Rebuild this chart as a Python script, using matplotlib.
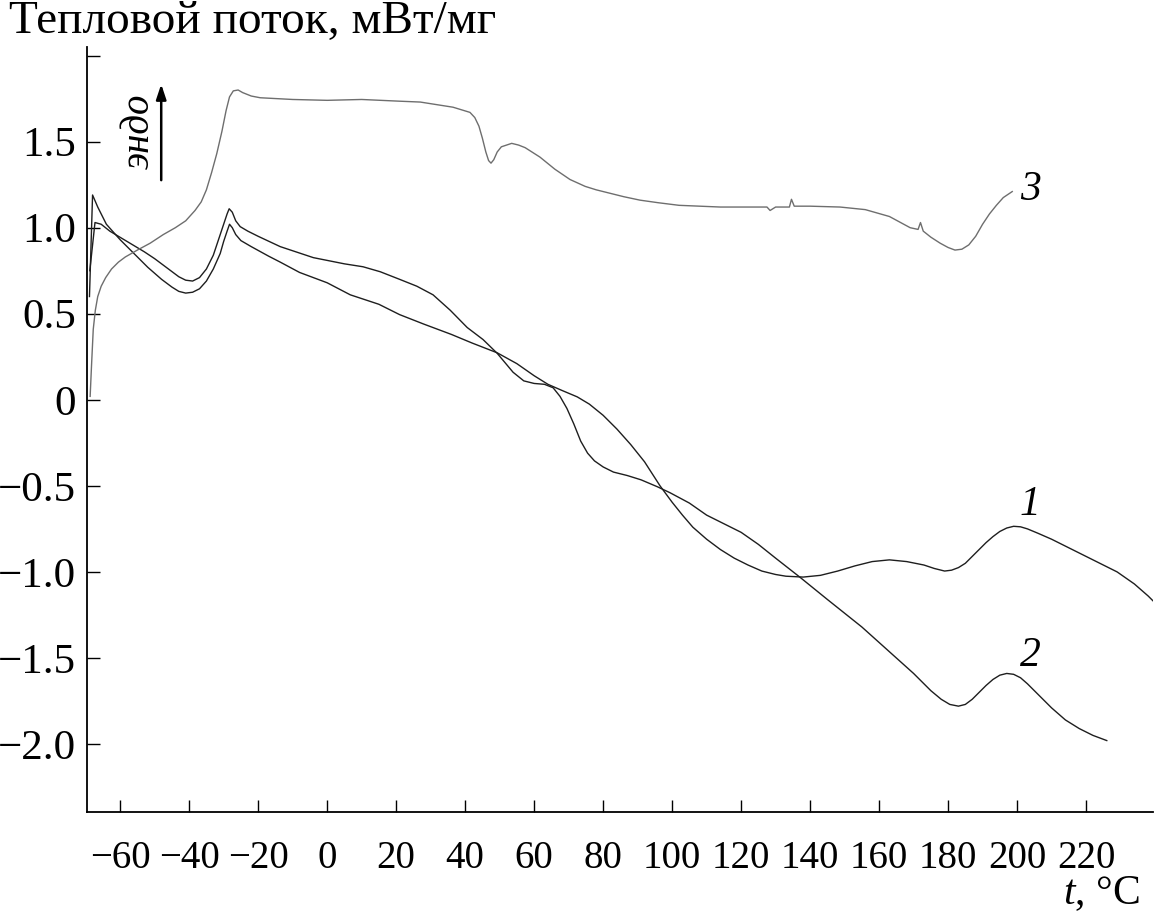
import matplotlib
matplotlib.use("Agg")
import matplotlib.pyplot as plt

plt.rcParams['font.family'] = ['Liberation Serif', 'DejaVu Serif']
plt.rcParams['mathtext.fontset'] = 'custom'
plt.rcParams['mathtext.rm'] = 'Liberation Serif'
plt.rcParams['mathtext.it'] = 'Liberation Serif:italic'

# кривая 1
t1 = [-68.9, -68.0, -66.5, -64, -60, -56, -52, -48, -45, -43, -41, -39, -37, -35, -33, -31,
      -30, -29, -28.3, -27.5, -26.5, -25, -22, -17, -13.6, -8, -4, 0, 6.7, 15, 21, 28, 36,
      42, 49.3, 55, 60, 64, 68, 72.5, 76, 80, 84, 88, 92, 96.5, 100, 103, 106, 110, 114,
      118, 122, 126, 130, 133, 138, 143, 148, 153, 158, 163, 168, 173, 176, 179, 181, 183,
      185, 187, 189, 191, 193, 195, 197, 199, 201, 203, 206, 210, 215, 222, 229, 234, 238,
      239.5]
q1 = [0.60, 1.19, 1.12, 1.02, 0.93, 0.85, 0.77, 0.70, 0.655, 0.63, 0.62, 0.625, 0.645, 0.69,
      0.76, 0.85, 0.92, 0.98, 1.02, 1.00, 0.96, 0.925, 0.89, 0.835, 0.80, 0.74, 0.71, 0.68,
      0.61, 0.555, 0.495, 0.44, 0.38, 0.33, 0.273, 0.21, 0.14, 0.09, 0.055, 0.017, -0.025,
      -0.09, -0.17, -0.26, -0.36, -0.50, -0.595, -0.67, -0.74, -0.81, -0.87, -0.92, -0.96,
      -0.995, -1.015, -1.025, -1.03, -1.02, -0.995, -0.965, -0.94, -0.93, -0.94, -0.96,
      -0.98, -0.995, -0.99, -0.975, -0.95, -0.91, -0.87, -0.83, -0.795, -0.765, -0.745,
      -0.735, -0.738, -0.75, -0.775, -0.81, -0.86, -0.93, -1.0, -1.07, -1.14, -1.17]

# кривая 2
t2 = [-68.8, -67.3, -65.5, -63, -58, -53, -50, -46, -43, -41, -39, -37, -35, -33, -31.5,
      -30, -29, -28.4, -27.5, -26.5, -25.2, -23, -20, -13.6, -4, 0, 5, 10.4, 15.4, 21, 26,
      30.7, 35.7, 40.6, 45.2, 49.3, 53.9, 57, 60, 63, 65.5, 67.5, 69.5, 71.5, 73.5, 75.5,
      77.5, 80, 83, 87, 91, 95.7, 99.4, 105, 110, 115, 120, 125, 130, 137, 145, 155, 165,
      170, 175, 178, 180.5, 183, 185, 187, 189, 191, 193, 195, 197, 199, 201, 203, 206, 210,
      214, 218, 222, 226]
q2 = [0.75, 1.03, 1.02, 0.98, 0.92, 0.86, 0.82, 0.76, 0.715, 0.695, 0.69, 0.71, 0.76, 0.84,
      0.93, 1.02, 1.08, 1.11, 1.09, 1.04, 1.006, 0.98, 0.95, 0.89, 0.826, 0.81, 0.79, 0.773,
      0.744, 0.70, 0.66, 0.61, 0.52, 0.42, 0.35, 0.27, 0.16, 0.11, 0.095, 0.09, 0.07, 0.02,
      -0.05, -0.14, -0.24, -0.31, -0.355, -0.39, -0.42, -0.44, -0.465, -0.505, -0.54, -0.60,
      -0.67, -0.72, -0.77, -0.84, -0.92, -1.03, -1.16, -1.32, -1.50, -1.59, -1.69, -1.74,
      -1.77, -1.78, -1.77, -1.74, -1.70, -1.66, -1.625, -1.60, -1.59, -1.595, -1.615, -1.65,
      -1.71, -1.79, -1.86, -1.91, -1.95, -1.98]

# кривая 3
t3 = [-68.7, -68.3, -67.8, -67.2, -66.5, -65.5, -64.2, -62.5, -60.5, -58.5, -55, -51.3, -47.5,
      -44, -41, -38.3, -36.5, -35, -33.5, -32, -30.5, -29.3, -28.3, -27.2, -25.8, -24.5, -22,
      -19.4, -10, 0, 10, 21, 27, 36.5, 41.4, 42.8, 44, 45, 46, 46.8, 47.5, 48.3, 49.3, 50.5,
      52, 53.5, 55.5, 57.4, 61.7, 66, 70.4, 74.8, 78, 82, 86, 90.7, 96, 102, 114, 123, 127.5,
      128.4, 130, 134, 134.6, 135.4, 140, 148.7, 156, 163, 169, 171.3, 172, 172.8, 175,
      177.7, 180, 182, 184, 186, 188, 190, 192, 194, 196, 198.6]
q3 = [0.02, 0.20, 0.41, 0.52, 0.60, 0.66, 0.71, 0.76, 0.80, 0.83, 0.87, 0.91, 0.96, 1.0,
      1.04, 1.10, 1.15, 1.22, 1.32, 1.43, 1.56, 1.68, 1.76, 1.795, 1.80, 1.785, 1.765, 1.755,
      1.745, 1.74, 1.745, 1.735, 1.73, 1.70, 1.67, 1.64, 1.59, 1.52, 1.44, 1.39, 1.375, 1.395,
      1.44, 1.47, 1.48, 1.49, 1.48, 1.465, 1.41, 1.34, 1.28, 1.24, 1.22, 1.20, 1.18, 1.16,
      1.145, 1.13, 1.12, 1.12, 1.12, 1.10, 1.12, 1.12, 1.165, 1.125, 1.125, 1.12, 1.105,
      1.065, 1.0, 0.99, 1.03, 0.98, 0.945, 0.91, 0.885, 0.87, 0.875, 0.90, 0.95, 1.02, 1.08,
      1.13, 1.175, 1.21]

xtick_vals = [-60, -40, -20, 0, 20, 40, 60, 80, 100, 120, 140, 160, 180, 200, 220]
ytick_vals = [-2.0, -1.5, -1.0, -0.5, 0, 0.5, 1.0, 1.5, 2.0]
ytick_labels = ['\u22122.0', '\u22121.5', '\u22121.0', '\u22120.5', '0', '0.5', '1.0', '1.5', '']

fig = plt.figure(figsize=(11.56, 9.14), dpi=100)
ax = fig.add_axes([0.0753, 0.1116, 0.9221, 0.837])

ax.plot(t1, q1, color='#1e1e1e', lw=1.0)
ax.plot(t2, q2, color='#1e1e1e', lw=1.0)
ax.plot(t3, q3, color='#6e6e6e', lw=1.0)

ax.set_xlim(-69.6, 239.4)
ax.set_ylim(-2.395, 2.05)

ax.spines['top'].set_visible(False)
ax.spines['right'].set_visible(False)
ax.spines['left'].set_linewidth(1.3)
ax.spines['bottom'].set_linewidth(1.3)

ax.set_xticks(xtick_vals)
ax.set_xticklabels([str(v).replace('-', '\u2212') for v in xtick_vals])
ax.set_yticks(ytick_vals)
ax.set_yticklabels(ytick_labels)
ax.tick_params(axis='x', direction='in', length=9, width=1.0, labelsize=28, pad=20)
ax.tick_params(axis='y', direction='in', length=9, width=1.0, labelsize=31, pad=8)

# подписи кривых
ax.text(203.8, -0.61, '1', fontsize=30, style='italic', ha='center', va='center')
ax.text(203.8, -1.49, '2', fontsize=30, style='italic', ha='center', va='center')
ax.text(203.8, 1.22, '3', fontsize=30, style='italic', ha='center', va='center')

# эндо + стрелка
ax.text(-54.5, 1.56, 'эндо', fontsize=28, style='italic', rotation=90,
        ha='center', va='center')
ax.annotate('', xy=(-48.1, 1.85), xytext=(-48.1, 1.26),
            arrowprops=dict(arrowstyle='-|>,head_length=0.9,head_width=0.3',
                            color='black', lw=1.8))

fig.text(0.008, 0.976, 'Тепловой поток, мВт/мг', fontsize=34, ha='left', va='center')
fig.text(0.986, 0.022, '$t$, °C', fontsize=30, ha='right', va='center')

fig.savefig('out.png', dpi=100)
